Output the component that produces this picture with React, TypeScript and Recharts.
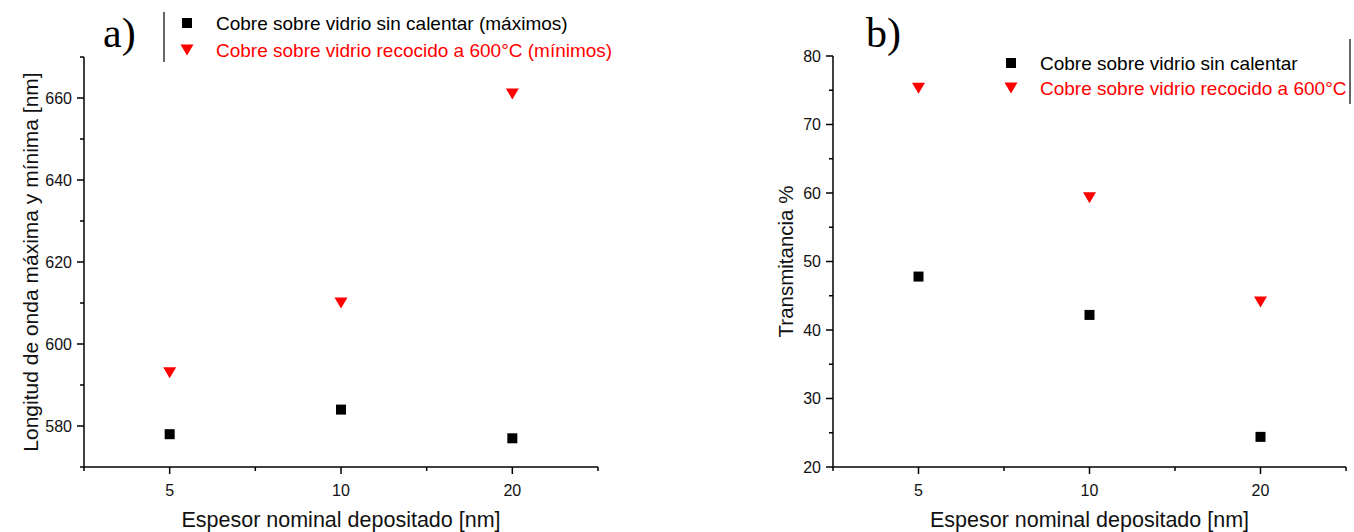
import React from 'react';
import { ScatterChart, Scatter, XAxis, YAxis, Legend, Label } from 'recharts';

// ---- data ----
const categories = ['5', '10', '20'];
const maxUnheated = [578, 584, 577];
const minAnnealed = [593, 610, 661];
const transUnheated = [47.8, 42.2, 24.4];
const transAnnealed = [75.3, 59.3, 44.1];

const yTicksA = [570, 580, 590, 600, 610, 620, 630, 640, 650, 660, 670];
const yMajorA = [580, 600, 620, 640, 660];
const yTicksB = [20, 25, 30, 35, 40, 45, 50, 55, 60, 65, 70, 75, 80];
const yMajorB = [20, 30, 40, 50, 60, 70, 80];

const legendA = ['Cobre sobre vidrio sin calentar (máximos)', 'Cobre sobre vidrio recocido a 600°C (mínimos)'];
const legendB = ['Cobre sobre vidrio sin calentar', 'Cobre sobre vidrio recocido a 600°C'];

const xTicks: number[] = [];
for (let i = 0; i <= categories.length * 2; i++) xTicks.push(-0.5 + i * 0.5);

const toRows = (vals: number[]) => vals.map((v, i) => ({ x: i, y: v }));

const SANS = '"Liberation Sans", Arial, sans-serif';
const SERIF = '"Liberation Serif", "Times New Roman", serif';
const RED = '#ff0000';
const INK = '#111';

const Square = (p: any) => (
  <rect x={p.cx - 5} y={p.cy - 5} width={10} height={10} fill="#000" />
);
const TriDown = (p: any) => (
  <polygon
    points={`${p.cx - 6.5},${p.cy - 5.5} ${p.cx + 6.5},${p.cy - 5.5} ${p.cx},${p.cy + 5.5}`}
    fill={RED}
  />
);

const makeYTick = (majors: number[]) => (props: any) => {
  const { x, y, payload } = props;
  const isMajor = majors.includes(payload.value);
  return (
    <g>
      <line x1={x} x2={x - (isMajor ? 7 : 4)} y1={y} y2={y} stroke="#000" strokeWidth={1.5} />
      {isMajor && (
        <text x={x - 12} y={y} textAnchor="end" dominantBaseline="central" fontFamily={SANS} fontSize={16} fill={INK}>
          {payload.value}
        </text>
      )}
    </g>
  );
};

const XTick = (props: any) => {
  const { x, y, payload } = props;
  const v = payload.value;
  const isMajor = Number.isInteger(v);
  return (
    <g>
      <line x1={x} x2={x} y1={y} y2={y + (isMajor ? 7 : 4)} stroke="#000" strokeWidth={1.5} />
      {isMajor && (
        <text x={x} y={y + 23} textAnchor="middle" dominantBaseline="central" fontFamily={SANS} fontSize={16} fill={INK}>
          {categories[v]}
        </text>
      )}
    </g>
  );
};

const xTitle = (props: any) => {
  const vb = props.viewBox;
  return (
    <text x={vb.x + vb.width / 2} y={527} textAnchor="middle" fontFamily={SANS} fontSize={21.5} fill={INK}>
      Espesor nominal depositado [nm]
    </text>
  );
};

const yTitle = (text: string, cxOff: number, size: number) => (props: any) => {
  const vb = props.viewBox;
  const cx = vb.x + cxOff;
  const cy = vb.y + vb.height / 2;
  return (
    <text
      x={cx}
      y={cy}
      transform={`rotate(-90 ${cx} ${cy})`}
      textAnchor="middle"
      dominantBaseline="central"
      fontFamily={SANS}
      fontSize={size}
      fill={INK}
    >
      {text}
    </text>
  );
};

const LegendPanel = (cfg: {
  letter: string;
  letterX: number;
  lineX: number;
  lineY1: number;
  lineY2: number;
  markerX: number;
  textX: number;
  rowY: number[];
  labels: string[];
}) => () => (
  <svg width={677} height={110} style={{ display: 'block' }}>
    <text x={cfg.letterX} y={47} fontFamily={SERIF} fontSize={42} fill="#000">
      {cfg.letter}
    </text>
    <line x1={cfg.lineX} x2={cfg.lineX} y1={cfg.lineY1} y2={cfg.lineY2} stroke="#000" strokeWidth={1.2} />
    <Square cx={cfg.markerX} cy={cfg.rowY[0]} />
    <text x={cfg.textX} y={cfg.rowY[0]} dominantBaseline="central" fontFamily={SANS} fontSize={19} fill="#000">
      {cfg.labels[0]}
    </text>
    <TriDown cx={cfg.markerX} cy={cfg.rowY[1]} />
    <text x={cfg.textX} y={cfg.rowY[1]} dominantBaseline="central" fontFamily={SANS} fontSize={19} fill={RED}>
      {cfg.labels[1]}
    </text>
  </svg>
);

const legendContentA = LegendPanel({
  letter: 'a)',
  letterX: 103,
  lineX: 164,
  lineY1: 12,
  lineY2: 62,
  markerX: 187,
  textX: 216,
  rowY: [23, 50],
  labels: legendA,
});

const legendContentB = LegendPanel({
  letter: 'b)',
  letterX: 189,
  lineX: 673,
  lineY1: 39,
  lineY2: 104,
  markerX: 334,
  textX: 363,
  rowY: [63, 88],
  labels: legendB,
});

const axisLine = { stroke: '#000', strokeWidth: 1.5 };

export default function App() {
  return (
    <div style={{ position: 'absolute', left: 0, top: 0, width: 1354, height: 532, background: '#fff' }}>
      <div style={{ position: 'absolute', left: 0, top: 0 }}>
        <ScatterChart width={677} height={532} margin={{ top: 57, right: 79, left: 0, bottom: 35 }}>
          <XAxis
            dataKey="x"
            type="number"
            domain={[-0.5, categories.length - 0.5]}
            ticks={xTicks}
            interval={0}
            height={30}
            tickSize={0}
            tickMargin={0}
            tickLine={false}
            axisLine={axisLine}
            tick={XTick}
          >
            <Label content={xTitle} />
          </XAxis>
          <YAxis
            dataKey="y"
            type="number"
            domain={[570, 670]}
            ticks={yTicksA}
            interval={0}
            width={84}
            tickSize={0}
            tickMargin={0}
            tickLine={false}
            axisLine={axisLine}
            tick={makeYTick(yMajorA)}
          >
            <Label content={yTitle('Longitud de onda máxima y mínima [nm]', 30, 21)} />
          </YAxis>
          <Legend
            layout="vertical"
            align="center"
            verticalAlign="middle"
            content={legendContentA}
            wrapperStyle={{ left: 0, top: 0, width: 677, height: 110 }}
          />
          <Scatter name={legendA[0]} data={toRows(maxUnheated)} shape={Square} isAnimationActive={false} />
          <Scatter name={legendA[1]} data={toRows(minAnnealed)} shape={TriDown} isAnimationActive={false} />
        </ScatterChart>
      </div>
      <div style={{ position: 'absolute', left: 677, top: 0 }}>
        <ScatterChart width={677} height={532} margin={{ top: 56, right: 8, left: 0, bottom: 35 }}>
          <XAxis
            dataKey="x"
            type="number"
            domain={[-0.5, categories.length - 0.5]}
            ticks={xTicks}
            interval={0}
            height={30}
            tickSize={0}
            tickMargin={0}
            tickLine={false}
            axisLine={axisLine}
            tick={XTick}
          >
            <Label content={xTitle} />
          </XAxis>
          <YAxis
            dataKey="y"
            type="number"
            domain={[20, 80]}
            ticks={yTicksB}
            interval={0}
            width={156}
            tickSize={0}
            tickMargin={0}
            tickLine={false}
            axisLine={axisLine}
            tick={makeYTick(yMajorB)}
          >
            <Label content={yTitle('Transmitancia %', 108, 20.5)} />
          </YAxis>
          <Legend
            layout="vertical"
            align="center"
            verticalAlign="middle"
            content={legendContentB}
            wrapperStyle={{ left: 0, top: 0, width: 677, height: 110 }}
          />
          <Scatter name={legendB[0]} data={toRows(transUnheated)} shape={Square} isAnimationActive={false} />
          <Scatter name={legendB[1]} data={toRows(transAnnealed)} shape={TriDown} isAnimationActive={false} />
        </ScatterChart>
      </div>
    </div>
  );
}
